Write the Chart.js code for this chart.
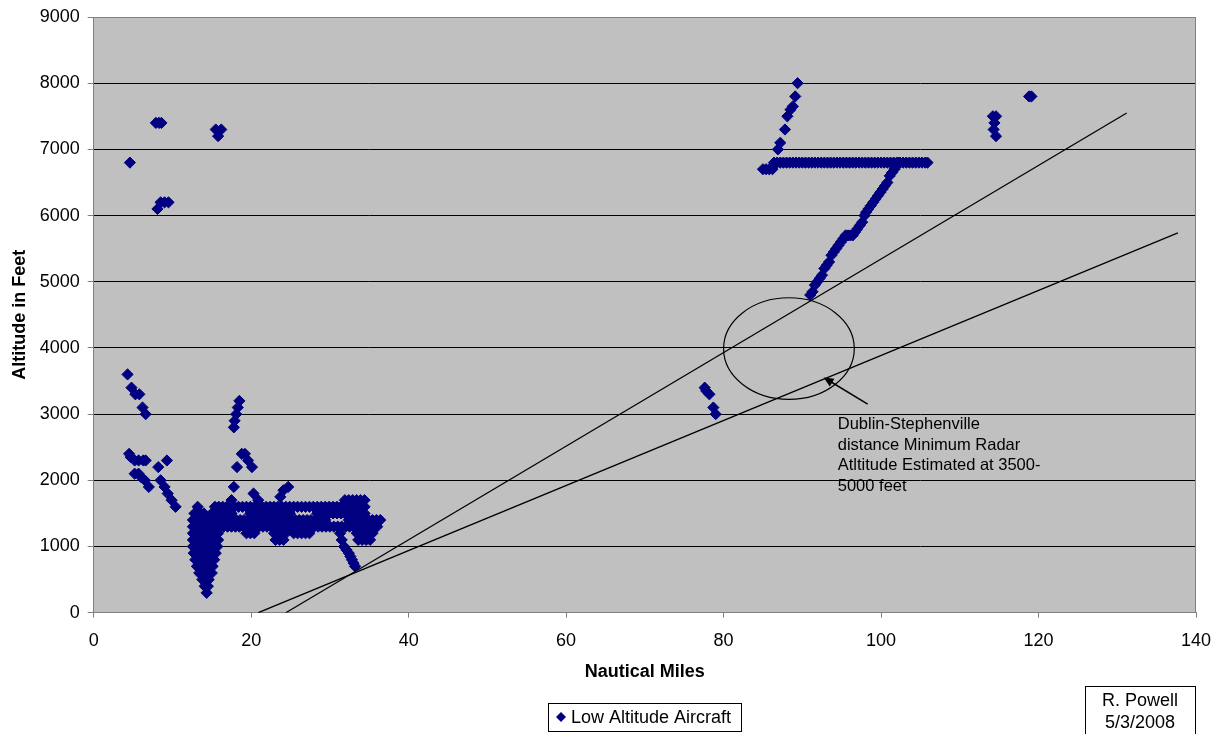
<!DOCTYPE html>
<html>
<head>
<meta charset="utf-8">
<script src="https://cdn.jsdelivr.net/npm/chart.js@4.4.1/dist/chart.umd.min.js"></script>
<style>
html,body{margin:0;padding:0;background:#fff;}
#wrap{width:1217px;height:734px;position:relative;}
</style>
</head>
<body>
<div id="wrap"><canvas id="c" width="1217" height="734"></canvas></div>
<script>
// ---------- DATA (nautical miles, feet) ----------
const xTicks = [0, 20, 40, 60, 80, 100, 120, 140];
const yTicks = [0, 1000, 2000, 3000, 4000, 5000, 6000, 7000, 8000, 9000];

const clusterHighLeft = [[4.6,6800],[7.9,7400],[8.3,7400],[8.6,7400],[8.1,6100],[8.5,6200],[9.0,6200],[9.5,6200],[15.5,7300],[16.2,7300],[15.8,7200]];

const clusterLeftDescent = [[4.3,3600],[4.8,3400],[5.3,3300],[5.8,3300],[6.2,3100],[6.6,3000],
  [4.5,2400],[4.7,2350],[5.2,2300],[5.7,2300],[6.3,2300],[6.6,2300],
  [5.2,2100],[5.7,2100],[6.0,2050],[6.5,2000],[7.0,1900],
  [8.2,2200],[9.3,2300],[8.5,2000],[9.0,1900],[9.4,1800],[9.9,1700],[10.4,1600]];

const clusterEighteen = [[17.8,2800],[17.9,2900],[18.1,3000],[18.3,3100],[18.5,3200],
  [18.2,2200],[18.8,2400],[19.2,2400],[19.6,2300],[20.1,2200],
  [17.8,1900],[17.5,1700],[20.3,1800],[20.9,1700],[23.7,1750],[24.1,1850],[24.7,1900]];

// V-shaped dense blob near 14 nm: altitude -> miles
const vBlobRows = {
  1600: [13.2],
  1500: [12.8,13.2,13.6,14.0],
  1400: [12.6,13.0,13.4,13.8,14.2],
  1300: [12.6,13.0,13.4,13.8,14.2,14.6,15.0,15.4,15.8],
  1200: [12.6,13.0,13.4,13.8,14.2,14.6,15.0,15.4,15.8],
  1100: [12.6,13.0,13.4,13.8,14.2,14.6,15.0,15.4,15.8],
  1000: [12.6,13.0,13.4,13.8,14.2,14.6,15.0,15.4,15.7],
  900:  [12.7,13.1,13.5,13.9,14.3,14.7,15.1,15.5],
  800:  [12.9,13.3,13.7,14.1,14.5,14.9,15.3],
  700:  [13.1,13.5,13.9,14.3,14.7,15.1],
  600:  [13.4,13.8,14.2,14.6,15.0],
  500:  [13.8,14.2,14.6],
  400:  [14.1,14.5],
  300:  [14.35]
};

// Horizontal band 15-36 nm: altitude -> miles
const bandRows = {
  1700: [31.9,32.4,32.9,33.4,33.9,34.4],
  1600: [15.4,15.9,16.4,16.9,17.4,17.9,18.4,18.9,19.4,19.9,20.4,20.9,21.4,21.9,22.4,22.9,23.4,23.9,24.4,24.9,25.4,25.9,26.4,26.9,27.4,27.9,28.4,28.9,29.4,29.9,30.4,30.9,31.4,31.9,32.4,32.9,33.4,33.9,34.4],
  1500: [15.0,15.5,16.0,16.5,17.0,17.5,19.9,20.4,20.9,21.4,21.9,22.4,22.9,23.4,23.9,24.4,24.9,28.4,28.9,29.4,29.9,30.4,30.9,31.4,31.9,32.4,32.9,33.4,33.9,34.4],
  1400: [14.6,15.1,15.6,16.1,16.6,17.1,17.6,18.1,18.6,19.1,19.6,20.1,20.6,21.1,21.6,22.1,22.6,23.1,23.6,24.1,24.6,25.1,25.6,26.1,26.6,27.1,27.6,28.1,28.6,29.1,29.4,32.4,32.9,33.4,33.9,34.4,34.9,35.4,35.9,36.4],
  1300: [15.0,15.5,16.0,16.5,17.0,17.5,18.0,18.5,19.0,19.5,20.0,20.5,21.0,21.5,22.0,22.5,23.0,23.5,24.0,24.5,25.0,25.5,26.0,26.5,27.0,27.5,28.0,28.5,29.0,29.5,30.0,30.5,31.0,31.5,32.0,32.5,33.0,33.5,34.0,34.5,35.0,35.5,36.0],
  1200: [19.4,19.9,20.4,22.9,23.4,23.9,24.4,25.4,25.9,26.4,26.9,27.4,33.4,33.9,34.4,34.9,35.4],
  1100: [23.1,23.6,24.1,33.6,34.1,34.6,35.1]
};

const tailDown = [[31.3,1200],[31.5,1100],[31.8,1000],[32.1,950],[32.4,900],[32.6,850],[32.8,800],[33.0,750],[33.2,700]];

const midPoints = [[77.6,3400],[77.8,3350],[78.2,3300],[78.7,3100],[79.0,3000]];

const climbDots = [[86.9,7000],[87.2,7100],[87.8,7300],[88.1,7500],[88.5,7600],[88.8,7650],[89.1,7800],[89.4,8000]];

const level6700Miles = [85.0,85.4,85.8,86.2];
const level6800Miles = [86.4,86.8,87.2,87.6,88.0,88.4,88.8,89.2,89.6,90.0,90.4,90.8,91.2,91.6,92.0,92.4,92.8,93.2,93.6,94.0,94.4,94.8,95.2,95.6,96.0,96.4,96.8,97.2,97.6,98.0,98.4,98.8,99.2,99.6,100.0,100.4,100.8,101.2,101.6,102.0,102.4,102.8,103.2,103.6,104.0,104.4,104.8,105.2,105.6,105.9];

const descentTrace = [[102.3,6800],[102.0,6750],[101.7,6700],[101.4,6650],[101.1,6600],[100.8,6500],[100.5,6450],[100.2,6400],[99.9,6350],[99.6,6300],[99.3,6250],[99.0,6200],[98.7,6150],[98.4,6100],[98.1,6050],[97.9,6000],[97.6,5900],[97.3,5850],[97.0,5800],[96.7,5750],[96.4,5700],[96.1,5700],[95.8,5700],[95.5,5700],[95.2,5650],[94.9,5600],[94.6,5550],[94.3,5500],[94.0,5450],[93.7,5400],[93.4,5300],[93.1,5250],[92.8,5200],[92.5,5100],[92.2,5050],[91.9,5000],[91.6,4950],[91.3,4850],[91.0,4800]];

const farRight = [[114.2,7500],[114.6,7500],[114.4,7400],[114.3,7300],[114.6,7200],[118.8,7800],[119.1,7800]];

// Reference lines, ellipse, arrow
const radarLineSteep = [[24.4,0],[131.2,7550]];
const radarLineShallow = [[20.9,0],[137.7,5740]];
const radarEllipse = {cx: 88.3, cy: 3990, rx: 8.3, ry: 768};
const arrowFromTo = [[98.3,3150],[92.7,3555]];
const noteAnchor = [94.5, 3020];
const noteLines = ['Dublin-Stephenville', 'distance Minimum Radar', 'Atltitude Estimated at 3500-', '5000 feet'];
const seriesName = 'Low Altitude Aircraft';
const signLines = ['R. Powell', '5/3/2008'];

// ---------- build points ----------
const pts = [];
const addPairs = arr => arr.forEach(p => pts.push({x: p[0], y: p[1]}));
const addRows = rows => Object.keys(rows).forEach(k => rows[k].forEach(m => pts.push({x: m, y: Number(k)})));
addPairs(clusterHighLeft);
addPairs(clusterLeftDescent);
addPairs(clusterEighteen);
addRows(vBlobRows);
addRows(bandRows);
addPairs(tailDown);
addPairs(midPoints);
addPairs(climbDots);
level6700Miles.forEach(m => pts.push({x: m, y: 6700}));
level6800Miles.forEach(m => pts.push({x: m, y: 6800}));
addPairs(descentTrace);
addPairs(farRight);

const FONT = "'Liberation Sans', Arial, sans-serif";

const decor = {
  id: 'decor',
  beforeDraw(chart) {
    const {ctx, chartArea: a} = chart;
    ctx.save();
    ctx.fillStyle = '#C0C0C0';
    ctx.fillRect(a.left, a.top, a.right - a.left, a.bottom - a.top);
    ctx.restore();
  },
  beforeDatasetsDraw(chart) {
    const {ctx, chartArea: a} = chart;
    ctx.save();
    ctx.strokeStyle = '#808080';
    ctx.lineWidth = 1;
    ctx.beginPath();
    ctx.moveTo(a.right - 0.5, a.top);
    ctx.lineTo(a.right - 0.5, a.bottom);
    ctx.moveTo(a.left, a.top + 0.5);
    ctx.lineTo(a.right, a.top + 0.5);
    ctx.stroke();
    ctx.restore();
  },
  afterDatasetsDraw(chart) {
    const {ctx} = chart;
    const xs = chart.scales.x, ys = chart.scales.y;
    ctx.save();
    // ellipse
    const cx = xs.getPixelForValue(radarEllipse.cx), cy = ys.getPixelForValue(radarEllipse.cy);
    const rx = xs.getPixelForValue(radarEllipse.cx + radarEllipse.rx) - cx;
    const ry = cy - ys.getPixelForValue(radarEllipse.cy + radarEllipse.ry);
    ctx.strokeStyle = '#000';
    ctx.lineWidth = 1.2;
    ctx.beginPath();
    ctx.ellipse(cx, cy, rx, ry, 0, 0, Math.PI * 2);
    ctx.stroke();
    // arrow
    const x1 = xs.getPixelForValue(arrowFromTo[0][0]), y1 = ys.getPixelForValue(arrowFromTo[0][1]);
    const x2 = xs.getPixelForValue(arrowFromTo[1][0]), y2 = ys.getPixelForValue(arrowFromTo[1][1]);
    const ang = Math.atan2(y2 - y1, x2 - x1);
    ctx.lineWidth = 1.5;
    ctx.beginPath();
    ctx.moveTo(x1, y1);
    ctx.lineTo(x2 - Math.cos(ang) * 6, y2 - Math.sin(ang) * 6);
    ctx.stroke();
    ctx.fillStyle = '#000';
    ctx.beginPath();
    ctx.moveTo(x2, y2);
    ctx.lineTo(x2 - Math.cos(ang) * 10 + Math.sin(ang) * 4.5, y2 - Math.sin(ang) * 10 - Math.cos(ang) * 4.5);
    ctx.lineTo(x2 - Math.cos(ang) * 10 - Math.sin(ang) * 4.5, y2 - Math.sin(ang) * 10 + Math.cos(ang) * 4.5);
    ctx.closePath();
    ctx.fill();
    // note text
    const tx = xs.getPixelForValue(noteAnchor[0]);
    const ty = ys.getPixelForValue(noteAnchor[1]);
    ctx.font = '16.5px ' + FONT;
    ctx.textAlign = 'left';
    ctx.textBaseline = 'alphabetic';
    noteLines.forEach((t, i) => ctx.fillText(t, tx, ty + 16 + i * 20.7));
    ctx.restore();
  },
  afterDraw(chart) {
    const {ctx} = chart;
    ctx.save();
    // legend
    ctx.strokeStyle = '#000';
    ctx.lineWidth = 1;
    ctx.strokeRect(548.5, 703.5, 193, 28);
    const ds = chart.data.datasets[2];
    ctx.fillStyle = ds.backgroundColor;
    ctx.beginPath();
    ctx.moveTo(561 - 5, 717); ctx.lineTo(561, 712); ctx.lineTo(561 + 5, 717); ctx.lineTo(561, 722);
    ctx.closePath(); ctx.fill();
    ctx.fillStyle = '#000';
    ctx.font = '18px ' + FONT;
    ctx.textAlign = 'left';
    ctx.textBaseline = 'middle';
    ctx.fillText(seriesName, 571, 718);
    // signature box
    ctx.strokeRect(1085.5, 686.5, 110, 50);
    ctx.textAlign = 'center';
    ctx.fillText(signLines[0], 1140, 701);
    ctx.fillText(signLines[1], 1140, 723);
    ctx.restore();
  }
};

new Chart(document.getElementById('c'), {
  type: 'scatter',
  data: {
    datasets: [
      {label: 'steep', data: radarLineSteep.map(p => ({x: p[0], y: p[1]})), showLine: true, borderColor: '#000', borderWidth: 1.3, pointRadius: 0, order: 0},
      {label: 'shallow', data: radarLineShallow.map(p => ({x: p[0], y: p[1]})), showLine: true, borderColor: '#000', borderWidth: 1.3, pointRadius: 0, order: 0},
      {label: seriesName, data: pts, pointStyle: 'rectRot', pointRadius: 5.6, borderWidth: 1,
       backgroundColor: '#000080', borderColor: '#000080', order: 1}
    ]
  },
  options: {
    responsive: false,
    animation: false,
    events: [],
    layout: {padding: {top: 17, right: 21, left: 0, bottom: 0}},
    plugins: {legend: {display: false}, tooltip: {enabled: false}},
    scales: {
      x: {
        type: 'linear', min: 0, max: 140,
        afterFit: s => { s.height = 121.3; s.paddingLeft = 0; s.paddingRight = 0; },
        afterBuildTicks: s => { s.ticks = xTicks.map(v => ({value: v})); },
        ticks: {color: '#000', font: {family: FONT, size: 18}, padding: 13, maxRotation: 0, callback: v => String(v)},
        grid: {drawOnChartArea: false, drawTicks: true, tickLength: 5, tickColor: '#808080'},
        border: {color: '#808080', width: 1},
        title: {display: true, text: 'Nautical Miles', color: '#000', font: {family: FONT, size: 18, weight: 'bold'}, padding: {top: 0, bottom: 51.5}}
      },
      y: {
        type: 'linear', min: 0, max: 9000,
        afterFit: s => { s.width = 93.7; s.paddingTop = 0; s.paddingBottom = 0; },
        afterBuildTicks: s => { s.ticks = yTicks.map(v => ({value: v})); },
        ticks: {color: '#000', font: {family: FONT, size: 18}, padding: 8, callback: v => String(v)},
        grid: {color: c => (c.tick && (c.tick.value === 0 || c.tick.value === 9000)) ? '#808080' : '#000', lineWidth: 1, tickLength: 6, tickColor: '#808080'},
        border: {color: '#808080', width: 1},
        title: {display: true, text: 'Altitude in Feet', color: '#000', font: {family: FONT, size: 18, weight: 'bold'}, padding: {top: 9.2, bottom: 0}}
      }
    }
  },
  plugins: [decor]
});
</script>
</body>
</html>
